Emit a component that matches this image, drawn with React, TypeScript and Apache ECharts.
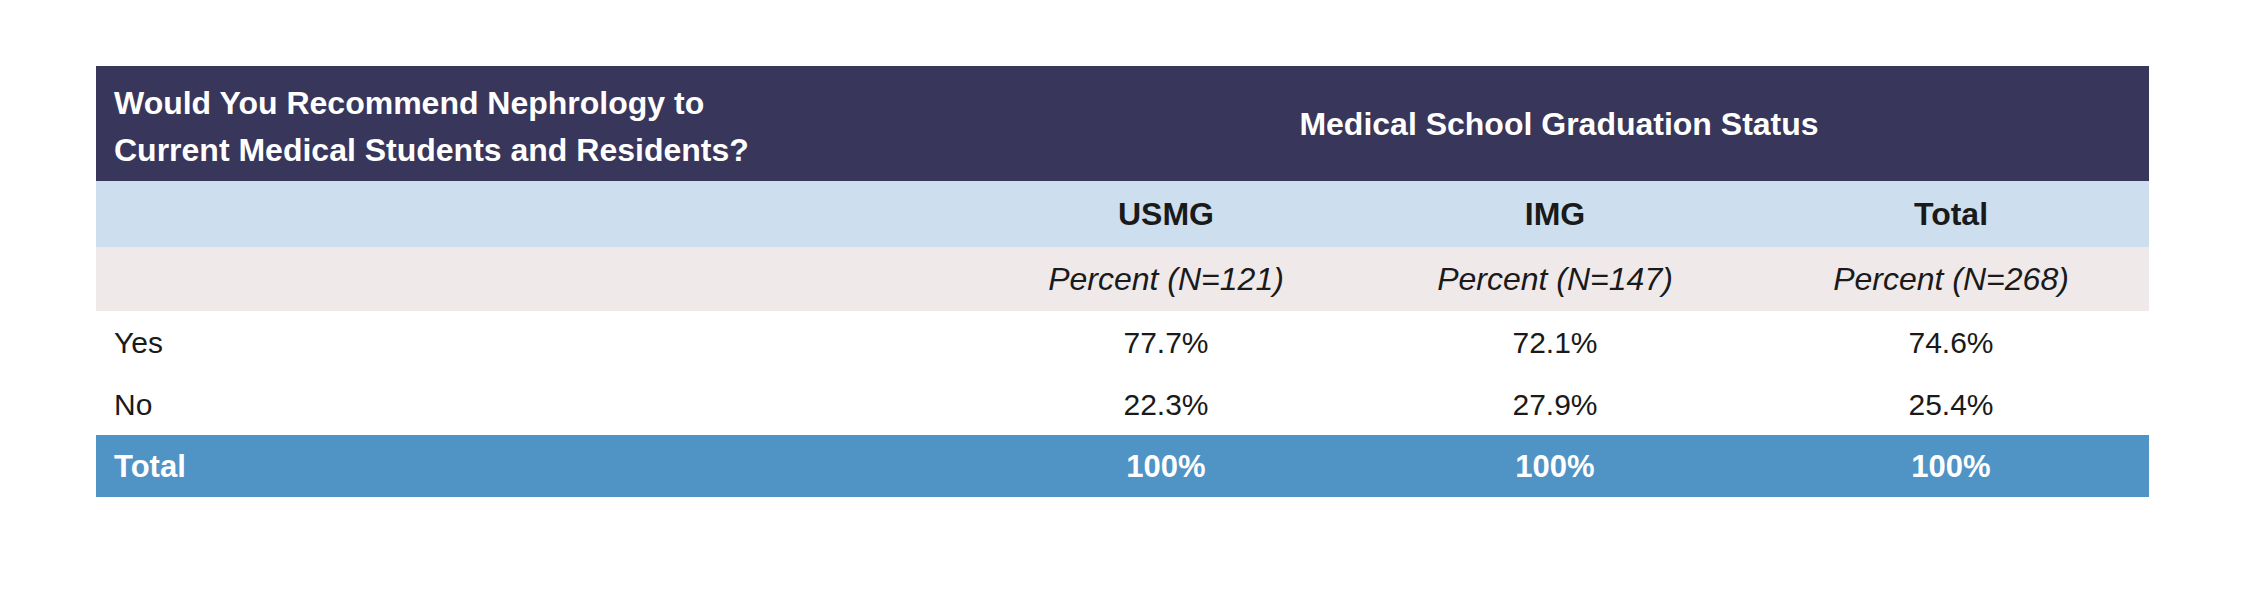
import { useEffect, useRef } from 'react';
import * as echarts from 'echarts';

const questionLines = ['Would You Recommend Nephrology to', 'Current Medical Students and Residents?'];
const groupTitle = 'Medical School Graduation Status';
const columns = ['USMG', 'IMG', 'Total'];
const subHeaders = ['Percent (N=121)', 'Percent (N=147)', 'Percent (N=268)'];
const rowLabels = ['Yes', 'No'];
const rowValues = [
  ['77.7%', '72.1%', '74.6%'],
  ['22.3%', '27.9%', '25.4%'],
];
const totalLabel = 'Total';
const totalValues = ['100%', '100%', '100%'];

const FONT = '"Liberation Sans", Arial, sans-serif';

export default function App() {
  const chartRef = useRef<HTMLDivElement>(null);

  useEffect(() => {
    if (!chartRef.current) return;
    const chart = echarts.init(chartRef.current, null, { renderer: 'svg' });

    const left = 96;
    const right = 2149;
    const width = right - left;
    const textX = 114;
    const colX = [1166, 1555, 1951];
    const rows = { head: [66, 181], cols: [181, 247], sub: [247, 311], yes: [311, 373], no: [373, 435], total: [435, 497] };

    const rect = (y: [number, number] | number[], fill: string) => ({
      type: 'rect',
      shape: { x: left, y: y[0], width, height: y[1] - y[0] },
      style: { fill },
    });
    const text = (x: number, y: number, t: string, opts: any = {}) => ({
      type: 'text',
      x,
      y,
      style: {
        text: t,
        fontFamily: FONT,
        fontSize: 30,
        fill: '#1a1a1a',
        textAlign: 'center',
        textVerticalAlign: 'middle',
        ...opts,
      },
    });
    const mid = (r: number[]) => (r[0] + r[1]) / 2;

    const elements: any[] = [
      rect(rows.head, '#39365b'),
      rect(rows.cols, '#cddfee'),
      rect(rows.sub, '#efe9ea'),
      rect(rows.total, '#5093c5'),
      text(textX, 103, questionLines[0], { textAlign: 'left', fill: '#fff', fontWeight: 'bold', fontSize: 32 }),
      text(textX, 150, questionLines[1], { textAlign: 'left', fill: '#fff', fontWeight: 'bold', fontSize: 32 }),
      text(1559, mid(rows.head), groupTitle, { fill: '#fff', fontWeight: 'bold', fontSize: 32 }),
      text(textX, mid(rows.yes), rowLabels[0], { textAlign: 'left' }),
      text(textX, mid(rows.no), rowLabels[1], { textAlign: 'left' }),
      text(textX, mid(rows.total), totalLabel, { textAlign: 'left', fill: '#fff', fontWeight: 'bold', fontSize: 31 }),
    ];
    columns.forEach((c, i) => {
      elements.push(text(colX[i], mid(rows.cols), c, { fontWeight: 'bold', fontSize: 32 }));
      elements.push(text(colX[i], mid(rows.sub), subHeaders[i], { fontStyle: 'italic', fontSize: 32 }));
      elements.push(text(colX[i], mid(rows.yes), rowValues[0][i]));
      elements.push(text(colX[i], mid(rows.no), rowValues[1][i]));
      elements.push(text(colX[i], mid(rows.total), totalValues[i], { fill: '#fff', fontWeight: 'bold', fontSize: 31 }));
    });

    chart.setOption({ animation: false, graphic: { elements } });
    return () => chart.dispose();
  }, []);

  return (
    <div
      ref={chartRef}
      style={{ position: 'absolute', left: 0, top: 0, width: 2243, height: 599, background: '#fff' }}
    />
  );
}
